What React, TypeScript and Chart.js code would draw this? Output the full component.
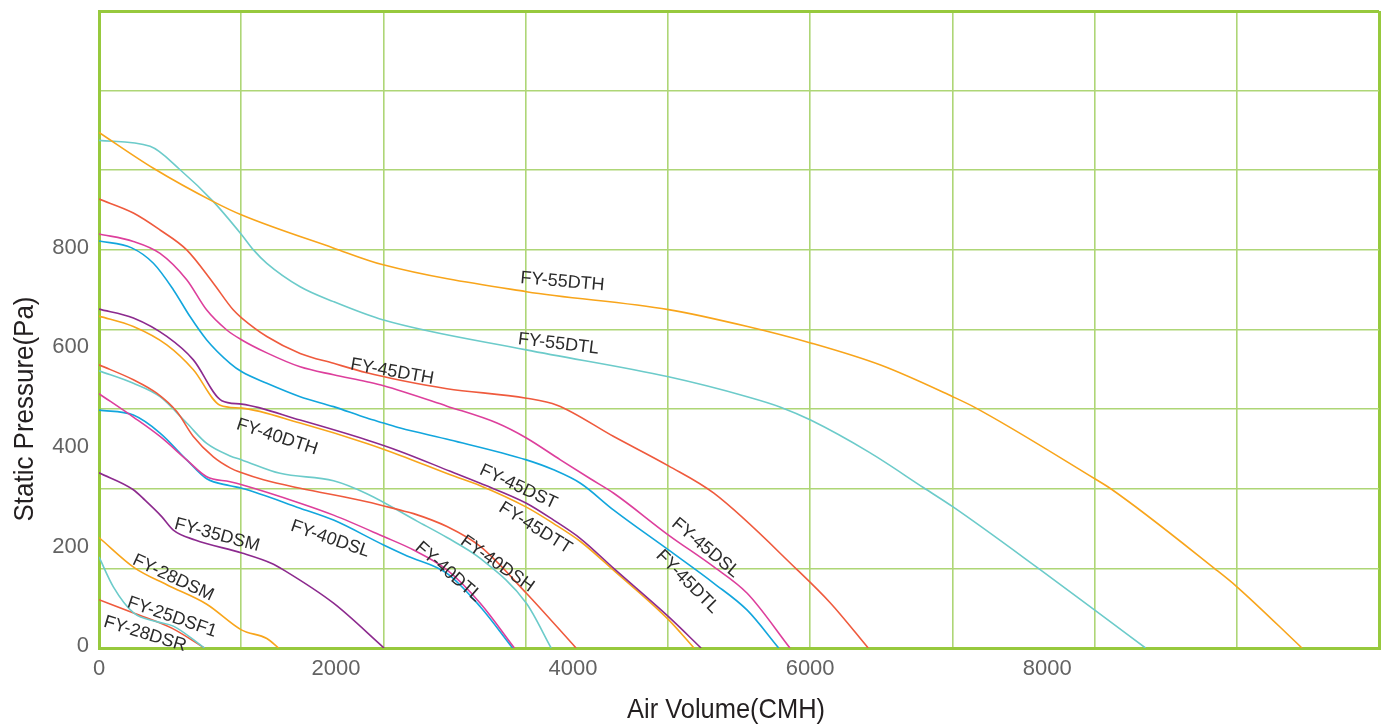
import React, { useEffect, useRef } from "react";
import { Chart, registerables } from "chart.js";

Chart.register(...registerables);

// ---- axes ----
const X_TICK_LABELS = [0, 2000, 4000, 6000, 8000];
const Y_TICK_LABELS = [0, 200, 400, 600, 800];
const X_GRID = [0, 1200, 2400, 3600, 4800, 6000, 7200, 8400, 9600, 10800];
const Y_GRID = [0, 160, 320, 480, 640, 800, 960, 1120, 1280];
const X_TITLE = "Air Volume(CMH)";
const Y_TITLE = "Static Pressure(Pa)";

// ---- series (air volume CMH / static pressure Pa) ----
const fy55dthAir = [0, 459, 965, 1205, 1976, 2398, 3606, 4805, 5472, 6004, 6600, 7203, 7385, 8402, 8537, 9416, 9601, 10150];
const fy55dthPa = [1036, 964, 897, 870, 804, 770, 716, 680, 646, 613, 568, 505, 484, 340, 320, 159, 123, 0];

const fy55dtlAir = [0, 431, 684, 965, 1205, 1303, 1416, 1697, 1979, 2401, 3606, 4805, 5469, 5751, 6004, 6500, 6958, 7203, 7938, 8402, 8830];
const fy55dtlPa = [1020, 1008, 961, 897, 830, 800, 773, 726, 696, 659, 599, 545, 505, 484, 458, 393, 322, 284, 158, 76, 0];

const fy45dthAir = [0, 290, 515, 740, 965, 1134, 1205, 1416, 1697, 1979, 2260, 2542, 2936, 3606, 3865, 4343, 4805, 5188, 5892, 6173, 6490];
const fy45dthPa = [902, 874, 840, 800, 733, 679, 663, 626, 592, 572, 553, 538, 521, 502, 488, 425, 366, 311, 157, 90, 0];

const fy45dslAir = [0, 290, 515, 740, 909, 1078, 1205, 1416, 1697, 1979, 2260, 2401, 2936, 3358, 3606, 3893, 4146, 4343, 4805, 5188, 5469, 5830];
const fy45dslPa = [832, 817, 793, 740, 679, 639, 619, 593, 565, 549, 535, 527, 486, 452, 422, 378, 340, 311, 227, 163, 110, 0];

const fy45dtlAir = [0, 276, 459, 627, 768, 909, 1106, 1205, 1416, 1697, 1979, 2260, 2401, 2542, 2964, 3606, 3836, 4062, 4343, 4805, 5188, 5469, 5735];
const fy45dtlPa = [818, 804, 773, 720, 666, 619, 572, 555, 532, 505, 485, 462, 452, 442, 418, 378, 358, 331, 277, 197, 130, 76, 0];

const fy45dstAir = [0, 290, 572, 796, 1036, 1205, 1697, 2260, 2542, 2964, 3217, 3606, 3836, 4062, 4343, 4805, 5080];
const fy45dstPa = [681, 663, 626, 579, 497, 490, 458, 418, 395, 355, 331, 291, 257, 220, 160, 63, 0];

const fy45dttAir = [0, 290, 572, 796, 1022, 1205, 1697, 2260, 2542, 2964, 3217, 3606, 3836, 4062, 4343, 4805, 5020];
const fy45dttPa = [667, 646, 609, 559, 488, 482, 452, 411, 387, 348, 326, 283, 250, 214, 156, 57, 0];

const fy40dshAir = [0, 290, 487, 656, 796, 965, 1106, 1205, 1388, 1697, 2260, 2542, 2654, 2936, 3217, 3606, 4025];
const fy40dshPa = [569, 539, 512, 475, 425, 384, 362, 352, 338, 321, 294, 277, 270, 244, 204, 110, 0];

const fy40dthAir = [0, 290, 515, 740, 909, 1106, 1205, 1528, 1979, 2260, 2683, 2936, 3217, 3606, 3815];
const fy40dthPa = [557, 532, 505, 452, 411, 386, 378, 351, 336, 310, 255, 222, 180, 90, 0];

const fy40dtlAir = [0, 290, 515, 740, 909, 1106, 1205, 1697, 1979, 2401, 2654, 2936, 3217, 3505];
const fy40dtlPa = [511, 464, 425, 378, 344, 334, 328, 291, 267, 224, 197, 157, 90, 0];

const fy40dslAir = [0, 290, 515, 740, 909, 1106, 1205, 1697, 1979, 2401, 2600, 2936, 3217, 3490];
const fy40dslPa = [478, 468, 432, 378, 340, 326, 321, 281, 257, 207, 185, 150, 83, 0];

const fy35dsmAir = [0, 290, 388, 529, 627, 811, 1205, 1458, 1556, 1979, 2405];
const fy35dsmPa = [352, 318, 297, 264, 237, 217, 191, 170, 157, 90, 0];

const fy28dsmAir = [0, 300, 572, 909, 1205, 1416, 1515];
const fy28dsmPa = [222, 161, 127, 88, 36, 19, 0];

const fy25dsf1Air = [0, 121, 295, 487, 627, 890];
const fy25dsf1Pa = [183, 123, 70, 53, 44, 0];

const fy28dsrAir = [0, 297, 614, 890];
const fy28dsrPa = [97, 70, 40, 0];

// ---- colours ----
const ORANGE = "#f8a51b";
const TEAL = "#6ccbca";
const RED = "#ef5a3d";
const MAGENTA = "#dd3f9c";
const CYAN = "#12a6dd";
const PURPLE = "#8c2a8e";

const SERIES = [
  { name: "FY-55DTH", air: fy55dthAir, pa: fy55dthPa, color: ORANGE },
  { name: "FY-55DTL", air: fy55dtlAir, pa: fy55dtlPa, color: TEAL },
  { name: "FY-45DTH", air: fy45dthAir, pa: fy45dthPa, color: RED },
  { name: "FY-45DSL", air: fy45dslAir, pa: fy45dslPa, color: MAGENTA },
  { name: "FY-45DTL", air: fy45dtlAir, pa: fy45dtlPa, color: CYAN },
  { name: "FY-45DST", air: fy45dstAir, pa: fy45dstPa, color: PURPLE },
  { name: "FY-45DTT", air: fy45dttAir, pa: fy45dttPa, color: ORANGE },
  { name: "FY-40DSH", air: fy40dshAir, pa: fy40dshPa, color: RED },
  { name: "FY-40DTH", air: fy40dthAir, pa: fy40dthPa, color: TEAL },
  { name: "FY-40DTL", air: fy40dtlAir, pa: fy40dtlPa, color: MAGENTA },
  { name: "FY-40DSL", air: fy40dslAir, pa: fy40dslPa, color: CYAN },
  { name: "FY-35DSM", air: fy35dsmAir, pa: fy35dsmPa, color: PURPLE },
  { name: "FY-28DSM", air: fy28dsmAir, pa: fy28dsmPa, color: ORANGE },
  { name: "FY-25DSF1", air: fy25dsf1Air, pa: fy25dsf1Pa, color: TEAL },
  { name: "FY-28DSR", air: fy28dsrAir, pa: fy28dsrPa, color: RED },
];

// curve name annotations: anchor in data units + rotation (deg)
const CURVE_LABELS = [
  { text: "FY-55DTH", air: 3910, pa: 736, angle: 5 },
  { text: "FY-55DTL", air: 3876, pa: 611, angle: 7 },
  { text: "FY-45DTH", air: 2474, pa: 555, angle: 10 },
  { text: "FY-40DTH", air: 1503, pa: 424, angle: 18 },
  { text: "FY-40DSL", air: 1951, pa: 219, angle: 19 },
  { text: "FY-35DSM", air: 996, pa: 227, angle: 15 },
  { text: "FY-28DSM", air: 625, pa: 141, angle: 25 },
  { text: "FY-25DSF1", air: 616, pa: 62, angle: 19 },
  { text: "FY-28DSR", air: 388, pa: 28, angle: 17 },
  { text: "FY-45DST", air: 3538, pa: 324, angle: 25 },
  { text: "FY-45DTT", air: 3682, pa: 241, angle: 32 },
  { text: "FY-40DTL", air: 2947, pa: 153, angle: 41 },
  { text: "FY-40DSH", air: 3361, pa: 169, angle: 35 },
  { text: "FY-45DSL", air: 5117, pa: 201, angle: 40 },
  { text: "FY-45DTL", air: 4965, pa: 133, angle: 45 },
];

const FONT = "'Liberation Sans', Arial, Helvetica, sans-serif";
const FRAME = "#97c93d";
const GRID = "#aed676";

const X_TICKS_ALL = Array.from(new Set([...X_GRID, ...X_TICK_LABELS])).sort((a, b) => a - b);
const Y_TICKS_ALL = Array.from(new Set([...Y_GRID, ...Y_TICK_LABELS])).sort((a, b) => a - b);

function drawScaledText(ctx: CanvasRenderingContext2D, text: string, x: number, y: number, width: number, rot: number) {
  ctx.save();
  ctx.translate(x, y);
  ctx.rotate(rot);
  const w = ctx.measureText(text).width;
  ctx.scale(width / w, 1);
  ctx.fillText(text, 0, 0);
  ctx.restore();
}

const overlayPlugin = {
  id: "overlayText",
  afterDatasetsDraw(chart: any) {
    const { ctx, scales } = chart;
    const xs = scales.x;
    const ys = scales.y;
    ctx.save();
    ctx.fillStyle = "#2b2b2b";
    ctx.font = `18px ${FONT}`;
    ctx.textAlign = "center";
    ctx.textBaseline = "middle";
    for (const l of CURVE_LABELS) {
      const px = xs.getPixelForValue(l.air);
      const py = ys.getPixelForValue(l.pa);
      ctx.save();
      ctx.translate(px, py);
      ctx.rotate((l.angle * Math.PI) / 180);
      ctx.fillText(l.text, 0, 0);
      ctx.restore();
    }
    // axis titles
    ctx.fillStyle = "#231f20";
    ctx.textBaseline = "alphabetic";
    ctx.font = `28px ${FONT}`;
    drawScaledText(ctx, X_TITLE, 726, 718, 198, 0);
    drawScaledText(ctx, Y_TITLE, 33, 409, 225, -Math.PI / 2);
    ctx.restore();
  },
};

const zeroPadding = (axis: any) => {
  axis.paddingTop = 0;
  axis.paddingBottom = 0;
  axis.paddingLeft = 0;
  axis.paddingRight = 0;
};

export default function App() {
  const ref = useRef<HTMLCanvasElement | null>(null);

  useEffect(() => {
    if (!ref.current) return;
    const datasets = SERIES.map((s) => ({
      label: s.name,
      data: s.air.map((a, i) => ({ x: a, y: s.pa[i] })),
      borderColor: s.color,
      backgroundColor: s.color,
      borderWidth: 1.6,
      pointRadius: 0,
      fill: false,
      cubicInterpolationMode: "monotone" as const,
    }));

    const chart = new Chart(ref.current, {
      type: "line",
      data: { datasets },
      plugins: [overlayPlugin],
      options: {
        animation: false,
        responsive: false,
        events: [],
        layout: { padding: { top: 11, right: 5, left: 0, bottom: 0 } },
        plugins: { legend: { display: false }, tooltip: { enabled: false } },
        scales: {
          x: {
            type: "linear",
            min: 0,
            max: 10800,
            afterBuildTicks: (axis: any) => {
              axis.ticks = X_TICKS_ALL.map((v) => ({ value: v }));
            },
            afterFit: (axis: any) => {
              axis.height = 76;
              zeroPadding(axis);
            },
            ticks: {
              autoSkip: false,
              maxRotation: 0,
              padding: 8,
              color: "#636363",
              font: { family: FONT, size: 22 },
              callback: (v: any) => (X_TICK_LABELS.includes(Number(v)) ? String(v) : ""),
            },
            grid: {
              drawTicks: false,
              color: (c: any) => {
                const v = c.tick ? c.tick.value : -1;
                if (!X_GRID.includes(v)) return "rgba(0,0,0,0)";
                return v === 0 || v === 10800 ? FRAME : GRID;
              },
              lineWidth: (c: any) => {
                const v = c.tick ? c.tick.value : -1;
                return v === 0 || v === 10800 ? 3 : 1.6;
              },
            },
            border: { display: true, color: FRAME, width: 3 },
          },
          y: {
            type: "linear",
            min: 0,
            max: 1280,
            afterBuildTicks: (axis: any) => {
              axis.ticks = Y_TICKS_ALL.map((v) => ({ value: v }));
            },
            afterFit: (axis: any) => {
              axis.width = 99;
              zeroPadding(axis);
            },
            ticks: {
              autoSkip: false,
              padding: 10,
              labelOffset: -2,
              color: "#636363",
              font: { family: FONT, size: 22 },
              callback: (v: any) => (Y_TICK_LABELS.includes(Number(v)) ? String(v) : ""),
            },
            grid: {
              drawTicks: false,
              color: (c: any) => {
                const v = c.tick ? c.tick.value : -1;
                if (!Y_GRID.includes(v)) return "rgba(0,0,0,0)";
                return v === 0 || v === 1280 ? FRAME : GRID;
              },
              lineWidth: (c: any) => {
                const v = c.tick ? c.tick.value : -1;
                return v === 0 || v === 1280 ? 3 : 1.6;
              },
            },
            border: { display: true, color: FRAME, width: 3 },
          },
        },
      },
    });
    return () => chart.destroy();
  }, []);

  return (
    <div style={{ position: "absolute", left: 0, top: 0, width: 1384, height: 724, background: "#fff" }}>
      <canvas ref={ref} width={1384} height={724} style={{ display: "block" }} />
    </div>
  );
}
